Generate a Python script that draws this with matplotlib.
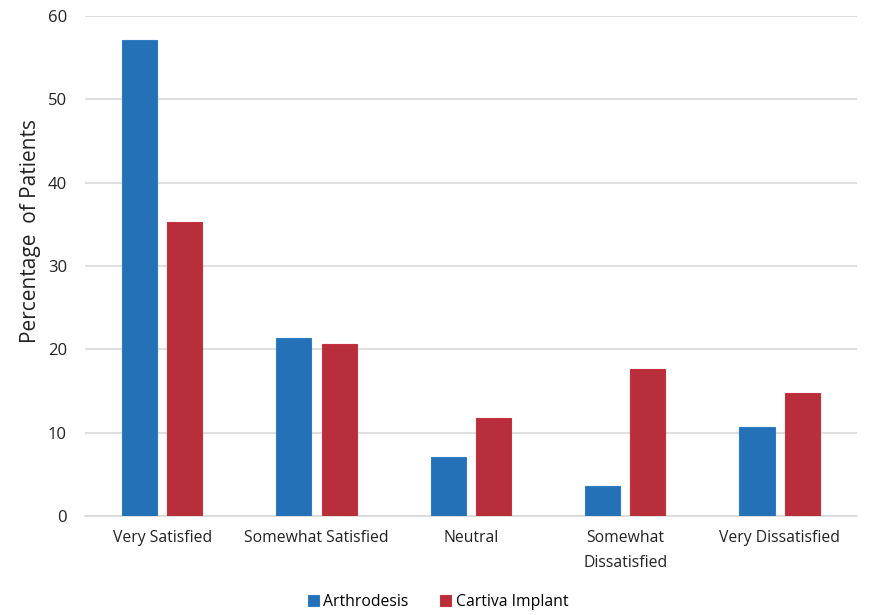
import numpy as np
import matplotlib.pyplot as plt

plt.rcParams['font.family'] = ['Open Sans', 'DejaVu Sans']

categories = ['Very Satisfied', 'Somewhat Satisfied', 'Neutral',
              'Somewhat\nDissatisfied', 'Very Dissatisfied']
arthrodesis = [57.1, 21.4, 7.1, 3.6, 10.7]
cartiva = [35.3, 20.6, 11.8, 17.6, 14.7]

blue = '#2571B8'
red = '#B82E3B'

fig = plt.figure(figsize=(8.76, 6.15), dpi=100)
ax = fig.add_axes([0.097, 0.161, 0.881, 0.813])

x = np.arange(len(categories))
w = 0.227
off = 0.146
ax.bar(x - off, arthrodesis, w, color=blue, edgecolor='#2F7DC4', lw=0.8,
       label='Arthrodesis', zorder=3)
ax.bar(x + off, cartiva, w, color=red, edgecolor='#C9303D', lw=0.8,
       label='Cartiva Implant', zorder=3)

ax.set_xlim(-0.5, len(categories) - 0.5)
ax.set_ylim(0, 60)
ax.set_yticks(np.arange(0, 61, 10))
ax.yaxis.grid(True, color='#D9D9D9', lw=1.2, zorder=0)
ax.set_axisbelow(True)
for s in ['top', 'right', 'left']:
    ax.spines[s].set_visible(False)
ax.spines['bottom'].set_color('#D9D9D9')
ax.spines['bottom'].set_linewidth(1.2)
ax.tick_params(axis='both', length=0, colors='#222222')
ax.tick_params(axis='y', pad=13, labelsize=12)
ax.tick_params(axis='x', pad=10, labelsize=11.3)
ax.set_xticks(x)
ax.set_xticklabels(categories, va='top', linespacing=1.75)
ax.set_ylabel('Percentage  of Patients', fontsize=15, color='#222222')
ax.yaxis.set_label_coords(-0.057, 0.57)

fig.legend(loc='lower center', bbox_to_anchor=(0.5, -0.015), ncol=2,
           frameon=False, fontsize=11.3, handlelength=0.7, handleheight=0.7,
           handletextpad=0.3, columnspacing=2.0)

fig.savefig('out.png', dpi=100)
